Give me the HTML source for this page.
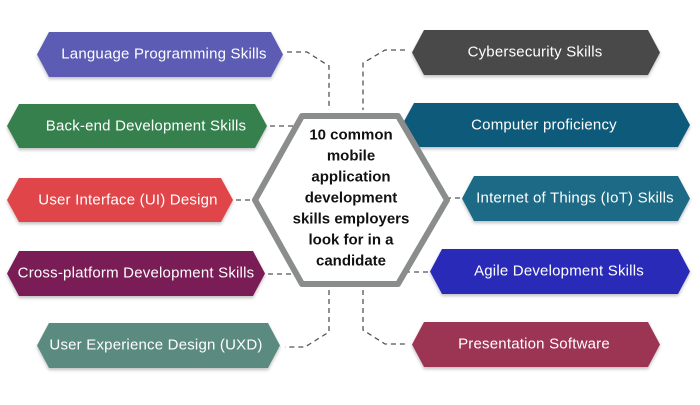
<!DOCTYPE html>
<html><head><style>
body{margin:0;background:#fff;}
svg text{font-family:"Liberation Sans",sans-serif;}
</style></head><body>
<svg width="700" height="400" viewBox="0 0 700 400" xmlns="http://www.w3.org/2000/svg">
<defs><filter id="s" x="-10%" y="-20%" width="120%" height="150%"><feDropShadow dx="0" dy="2" stdDeviation="1.5" flood-opacity="0.25"/></filter></defs>
<g fill="none" stroke="#555" stroke-width="1.3" stroke-dasharray="5,4">
<path d="M287 52 H307 L329 66 V110"/>
<path d="M405 50 H385 L363 63 V110"/>
<path d="M270 126 H298"/>
<path d="M236 200 H254"/>
<path d="M268 274 H296"/>
<path d="M329 290 V332 L305 347 H285"/>
<path d="M363 290 V330 L385 344 H408"/>
<path d="M430 124 H404"/>
<path d="M460 198 H448"/>
<path d="M428 272 H404"/>
</g>
<g filter="url(#s)">
<polygon points="49,32 271,32 283,54.5 271,77 49,77 37,54.5" fill="#5b5cb5"/>
<polygon points="19,104 255,104 267,126 255,148 19,148 7,126" fill="#34804e"/>
<polygon points="19,178 221,178 233,200 221,222 19,222 7,200" fill="#e04448"/>
<polygon points="19,251 253,251 265,273.5 253,296 19,296 7,273.5" fill="#7a1e55"/>
<polygon points="49,323 268,323 280,345.5 268,368 49,368 37,345.5" fill="#5a8a80"/>
<polygon points="424,30 648,30 660,52.5 648,75 424,75 412,52.5" fill="#4a4a4a"/>
<polygon points="414,103 678,103 690,125 678,147 414,147 402,125" fill="#115a7a"/>
<polygon points="474,176 678,176 690,198.5 678,221 474,221 462,198.5" fill="#1f6b85"/>
<polygon points="442,249 678,249 690,271.5 678,294 442,294 430,271.5" fill="#2a2cb8"/>
<polygon points="424,322 648,322 660,344.5 648,367 424,367 412,344.5" fill="#9c3553"/>
</g>
<g fill="#fff" font-size="15" letter-spacing="0.2" text-anchor="middle" dominant-baseline="central">
<text x="164" y="54">Language Programming Skills</text>
<text x="146" y="126">Back-end Development Skills</text>
<text x="128" y="200">User Interface (UI) Design</text>
<text x="136" y="273">Cross-platform Development Skills</text>
<text x="156" y="345">User Experience Design (UXD)</text>
<text x="535" y="52">Cybersecurity Skills</text>
<text x="544" y="125">Computer proficiency</text>
<text x="575" y="198">Internet of Things (IoT) Skills</text>
<text x="559" y="271">Agile Development Skills</text>
<text x="534" y="344">Presentation Software</text>
</g>
<path d="M302 116 H398 L447 200 L398 284 H302 L255 200 Z" fill="#fff" stroke="#8a8d8c" stroke-width="6" stroke-linejoin="round"/>
<g font-size="15" font-weight="bold" fill="#111" text-anchor="middle" dominant-baseline="central">
<text x="351" y="135">10 common</text>
<text x="351" y="156">mobile</text>
<text x="351" y="177">application</text>
<text x="351" y="198">development</text>
<text x="351" y="219">skills employers</text>
<text x="351" y="240">look for in a</text>
<text x="351" y="261">candidate</text>
</g>
</svg>
</body></html>
